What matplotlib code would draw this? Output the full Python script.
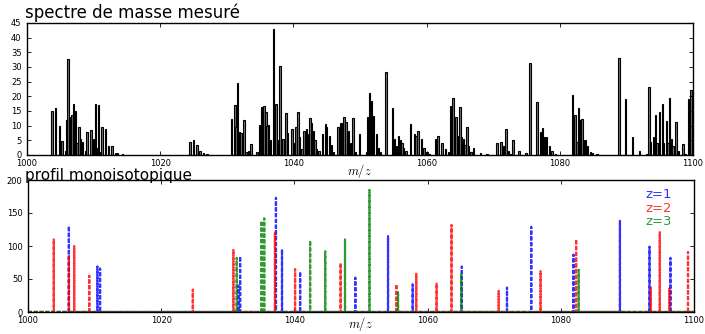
import matplotlib
matplotlib.use("Agg")
import matplotlib.pyplot as plt
import numpy as np

# ---------------- data ----------------
# measured spectrum (m/z, intensity)
spec_mz = [1003.75, 1004.25, 1004.85, 1005.25, 1005.75, 1006.0, 1006.15, 1006.4, 1006.75, 1007.0,
           1007.25, 1007.5, 1007.8, 1008.0, 1008.3, 1008.75, 1009.0, 1009.6, 1010.0, 1010.3,
           1010.55, 1010.75, 1011.0, 1011.25, 1011.75, 1012.25, 1012.75, 1013.3, 1013.55, 1014.3,
           1024.5, 1025.0, 1025.5, 1026.0, 1026.5, 1027.0,
           1030.7, 1031.2, 1031.4, 1031.6, 1031.9, 1032.1, 1032.4, 1032.6, 1032.85, 1033.25,
           1033.6, 1034.5, 1034.9, 1035.2, 1035.4, 1035.6, 1035.9, 1036.05, 1036.3, 1036.6,
           1037.0, 1037.2, 1037.4, 1037.65, 1038.0, 1038.45, 1038.9, 1039.1, 1039.8, 1040.0,
           1040.4, 1040.7, 1040.9, 1041.3, 1041.6, 1042.0, 1042.25, 1042.5, 1042.75, 1043.0,
           1043.25, 1043.5, 1043.85, 1044.4, 1044.8, 1045.0, 1045.4, 1045.7, 1046.0, 1046.7,
           1047.1, 1047.35, 1047.6, 1047.9, 1048.3, 1048.6, 1048.95, 1049.3, 1049.94, 1050.94,
           1051.14, 1051.44, 1051.69, 1052.05, 1052.45, 1052.75, 1053.05, 1053.9, 1054.9, 1055.15,
           1055.45, 1055.8, 1056.05, 1056.3, 1056.55, 1056.9, 1057.55, 1058.15, 1058.4, 1058.7,
           1059.2, 1059.6, 1060.05, 1060.45, 1061.3, 1061.7, 1062.3, 1062.8, 1063.3, 1063.56,
           1063.96, 1064.4, 1064.8, 1065.0, 1065.26, 1065.56, 1065.8, 1066.06, 1066.3, 1066.66,
           1067.06, 1068.06, 1069.06, 1070.56, 1071.16, 1071.56, 1071.9, 1072.3, 1072.66, 1072.97,
           1073.9, 1074.92, 1075.52, 1076.57, 1077.07, 1077.42, 1077.72, 1077.97, 1078.47, 1078.82,
           1079.32, 1081.92, 1082.3, 1082.58, 1082.8, 1083.08, 1083.33, 1083.58, 1083.83, 1084.18,
           1084.58, 1084.93, 1085.58, 1088.88, 1089.88, 1090.93, 1091.93, 1092.99, 1093.39, 1093.6,
           1094.1, 1094.34, 1094.6, 1094.94, 1095.39, 1095.59, 1095.99, 1096.24, 1096.49, 1096.74,
           1096.99, 1097.44, 1097.84, 1098.5, 1098.8, 1099.29, 1099.7]
spec_int = [15, 16, 10, 4.7, 1.5, 12, 32.7, 13, 13.5, 17.5,
            15, 4, 9.5, 5.5, 4.5, 1.5, 7.8, 8.4, 5.5, 17.5,
            2.5, 17, 1, 9.5, 9, 3, 3, 0.7, 0.7, 0.2,
            4.6, 5, 3.3, 1.5, 0.6, 0.2,
            12.3, 17, 9.7, 24.7, 8, 7.6, 5.5, 12, 1, 1.5,
            3.7, 1, 10.3, 16.3, 14.5, 16.8, 14.5, 10, 10.3, 5,
            43, 16, 17.5, 5, 30.3, 5.5, 14.2, 7.5, 8.7, 4,
            9.6, 14.7, 6.2, 2, 8.2, 8.7, 7, 12.5, 10.8, 8.3,
            5, 2, 1.5, 7, 10.6, 9.5, 6.6, 3.5, 1, 9.7,
            10.8, 11, 13, 11.3, 8.3, 4.2, 12.7, 1, 7, 1,
            13, 21, 18.5, 13.3, 7, 2.5, 1, 28.3, 16, 5.3,
            3, 6.6, 5, 4, 2.5, 1.5, 10.6, 7.3, 6.5, 8.3,
            5.5, 2.5, 1, 0.5, 5.5, 6.6, 4.2, 2, 1, 16.8,
            19.3, 13, 6.6, 16.3, 6.3, 5.3, 3.3, 9.5, 3, 1,
            2.5, 0.6, 0.2, 4.2, 4.6, 3, 8.8, 1.5, 0.5, 5,
            1.5, 0.6, 31.2, 18, 8, 9.2, 6.3, 6.1, 3, 1.5,
            0.5, 20.5, 13.8, 4.5, 16, 12, 12.2, 5, 5, 3,
            1, 0.8, 0.3, 33, 19, 6.3, 1.5, 0.5, 23.3, 4.5,
            6, 13.6, 4, 14.6, 17.5, 4, 11.7, 4, 19.3, 5.5,
            3, 11.3, 1.5, 3.7, 0.5, 19, 22.3]

# monoisotopic profile, per charge state
z1_mz = [1006.14, 1010.42, 1010.82, 1031.59, 1031.85, 1037.23, 1038.14, 1040.86, 1049.15, 1054.06,
         1057.76, 1065.14, 1071.92, 1075.56, 1081.9, 1088.88, 1093.32, 1096.46]
z1_int = [130, 69, 66, 40, 84, 173, 95, 61, 52, 115,
          42, 69, 37, 129, 87, 138, 99, 82]
z2_mz = [1003.87, 1006.14, 1006.94, 1009.2, 1024.75, 1030.84, 1037.08, 1040.1, 1046.94, 1055.31,
         1058.3, 1061.35, 1063.59, 1070.67, 1076.96, 1082.3, 1093.52, 1094.86, 1096.31, 1099.1]
z2_int = [110, 86, 100, 55, 34, 94, 120, 65, 74, 42,
          58, 43, 132, 32, 62, 110, 37, 121, 36, 91]
z3_mz = [1031.34, 1035.07, 1035.47, 1042.36, 1044.63, 1047.6, 1051.27, 1055.56, 1065.04, 1082.69]
z3_int = [82, 138, 142, 108, 92, 110, 185, 30, 58, 64]

series_labels = ["z=1", "z=2", "z=3"]
series_colors = ["b", "r", "g"]

xmin, xmax = 1000, 1100

# ---------------- figure ----------------
plt.rcParams['mathtext.fontset'] = 'cm'
W, H = 705, 334
fig = plt.figure(figsize=(W / 100, H / 100), dpi=100)
fig.patch.set_facecolor('white')


def frac(l, t, r, b):
    return [l / W, 1 - b / H, (r - l) / W, (b - t) / H]


ax1 = fig.add_axes(frac(27, 23, 693, 155))
ax2 = fig.add_axes(frac(28, 180, 694, 312))

# top: measured spectrum
ax1.bar(spec_mz, spec_int, width=0.22, facecolor='0.45', edgecolor='black', linewidth=0.8)
ax1.set_xlim(xmin, xmax)
ax1.set_ylim(0, 45)
ax1.set_yticks(np.arange(0, 46, 5))


def profile(mz, inten):
    xs = [xmin]
    ys = [0]
    d = 0.015
    for m, h in sorted(zip(mz, inten)):
        xs += [m - d, m, m + d]
        ys += [0, h, 0]
    xs.append(xmax)
    ys.append(0)
    return xs, ys


handles = []
for (mz, it), lab, col in zip([(z1_mz, z1_int), (z2_mz, z2_int), (z3_mz, z3_int)],
                              series_labels, series_colors):
    xs, ys = profile(mz, it)
    ln, = ax2.plot(xs, ys, color=col, linestyle='--', linewidth=1.6, alpha=0.8,
                   dashes=(1.8, 0.8), label=lab)
    handles.append(ln)

ax2.set_xlim(xmin, xmax)
ax2.set_ylim(0, 200)
ax2.set_yticks(np.arange(0, 201, 50))

leg = ax2.legend(handles=handles, loc='upper right', frameon=False, handlelength=0,
                 handletextpad=0, fontsize=9.5, labelspacing=0.05,
                 bbox_to_anchor=(0.985, 1.03))
for txt, col in zip(leg.get_texts(), series_colors):
    txt.set_color(col)
    txt.set_alpha(0.8)
for h in leg.legend_handles:
    h.set_visible(False)

for ax, ly in ((ax1, -0.05), (ax2, -0.025)):
    ax.set_xticks(np.arange(1000, 1101, 20))
    ax.tick_params(direction='in', top=True, right=True, labelsize=6, length=3, width=0.6)
    ax.tick_params(axis='x', pad=3)
    ax.tick_params(axis='y', pad=4)
    for s in ax.spines.values():
        s.set_linewidth(1.0)
    ax.set_xlabel(r'$m/z$', fontsize=9)
    ax.xaxis.set_label_coords(0.5, ly)

fig.text(25 / W, 1 - 18 / H, "spectre de masse mesuré", fontsize=12, va='baseline', ha='left')
fig.text(25 / W, 1 - 179.5 / H, "profil monoisotopique", fontsize=11, va='baseline', ha='left')

fig.savefig("out.png", dpi=100, facecolor='white')
